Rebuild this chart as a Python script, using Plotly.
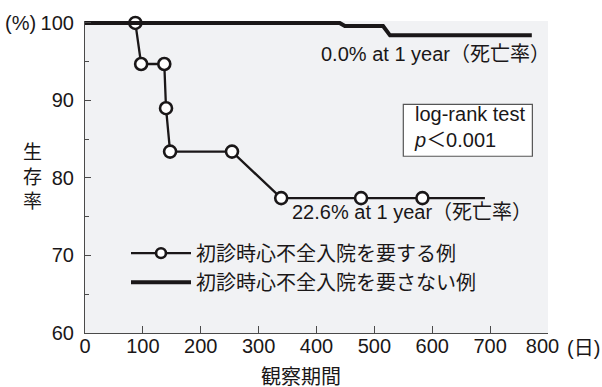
import plotly.graph_objects as go

# Kaplan-Meier style survival curves (observation days vs. survival %)
days_hf = [0, 87, 97, 137, 140, 147, 254, 339, 477, 583, 691]
surv_hf = [100, 100, 94.7, 94.7, 89.0, 83.4, 83.4, 77.4, 77.4, 77.4, 77.4]

days_nohf = [0, 440, 449, 515, 527, 772]
surv_nohf = [100, 100, 99.6, 99.6, 98.4, 98.4]

name_hf = "初診時心不全入院を要する例"
name_nohf = "初診時心不全入院を要さない例"

x_ticks = [0, 100, 200, 300, 400, 500, 600, 700, 800]
# the last label is padded so it sits a little left, making room for the unit
x_labels = ["0", "100", "200", "300", "400", "500", "600", "700", "800\u00a0\u00a0"]
y_ticks = [60, 70, 80, 90, 100]

INK = "#1a1718"
AXIS = "#4a4a4a"
FONT = "Liberation Sans, Arial, Noto Sans CJK JP"
FS = 20

# plot area in pixels
L, R, T, B = 85, 54, 19, 54
W, H = 602, 387
PW, PH = W - L - R, H - T - B


def px(xp):
    return (xp - L) / PW


def py(yp):
    return (H - B - yp) / PH


# hollow markers only on the interior event points
msize = [0] + [12] * (len(days_hf) - 2) + [0]

fig = go.Figure()
fig.add_trace(go.Scatter(
    x=days_hf, y=surv_hf, name=name_hf, mode="lines+markers",
    line=dict(color=INK, width=2.3),
    marker=dict(size=msize, color="white", opacity=1,
                line=dict(color=INK, width=2.6)),
    cliponaxis=False,
))
fig.add_trace(go.Scatter(
    x=days_nohf, y=surv_nohf, name=name_nohf, mode="lines",
    line=dict(color=INK, width=4),
    cliponaxis=False,
))

# statistics box
fig.add_shape(type="rect", x0=550, x1=773, y0=82.8, y1=89.5,
              xref="x", yref="y", fillcolor="white",
              line=dict(color="#555555", width=1.2), layer="above")

ann = []


def note(text, x, y, xanchor="left", xref="x", yref="y", size=FS, align="left"):
    ann.append(dict(text=text, x=x, y=y, xref=xref, yref=yref,
                    xanchor=xanchor, yanchor="middle", showarrow=False,
                    align=align,
                    font=dict(family=FONT, size=size, color=INK)))


note("0.0% at 1 year（死亡率）", 404, 96.0)
note("22.6% at 1 year（死亡率）", 355, 75.6)
note("log-rank test<br><i>p</i>＜0.001", 565, 86.6)

# axis units and titles
note("(%)", px(20), py(21), xanchor="center", xref="paper", yref="paper")
note("(日)", px(583), py(348), xanchor="center", xref="paper", yref="paper")
note("観察期間", px(301), py(377), xanchor="center", xref="paper", yref="paper")
note("生<br>存<br>率", px(32), py(176.5), xanchor="center", xref="paper",
     yref="paper", size=19, align="center")

fig.update_layout(
    width=W, height=H,
    margin=dict(l=L, r=R, t=T, b=B, pad=0),
    paper_bgcolor="white", plot_bgcolor="#f1f2f4",
    font=dict(family=FONT, size=FS, color=INK),
    showlegend=True,
    legend=dict(x=px(126), y=py(233), xanchor="left", yanchor="top",
                bgcolor="rgba(0,0,0,0)", itemwidth=60,
                font=dict(family=FONT, size=FS, color=INK),
                tracegroupgap=0),
    annotations=ann,
)

fig.update_xaxes(
    range=[0, 800], tickvals=x_ticks, ticktext=x_labels,
    showgrid=False, zeroline=False, showline=True, linecolor=AXIS, linewidth=1.2,
    ticks="inside", ticklen=7, tickwidth=1.2, tickcolor=AXIS,
    tickfont=dict(family=FONT, size=FS, color=INK), ticklabelstandoff=-5,
)
fig.update_yaxes(
    range=[60, 100.25], tickvals=y_ticks, ticktext=[str(v) for v in y_ticks],
    showgrid=False, zeroline=False, showline=True, linecolor=AXIS, linewidth=1.2,
    ticks="inside", ticklen=6, tickwidth=1.2, tickcolor=AXIS,
    minor=dict(tickvals=[65, 75, 85, 95], ticks="inside", ticklen=3.5,
               tickwidth=1.2, tickcolor=AXIS, showgrid=False),
    tickfont=dict(family=FONT, size=FS, color=INK), ticklabelstandoff=6,
)

fig.write_html("out.html")
